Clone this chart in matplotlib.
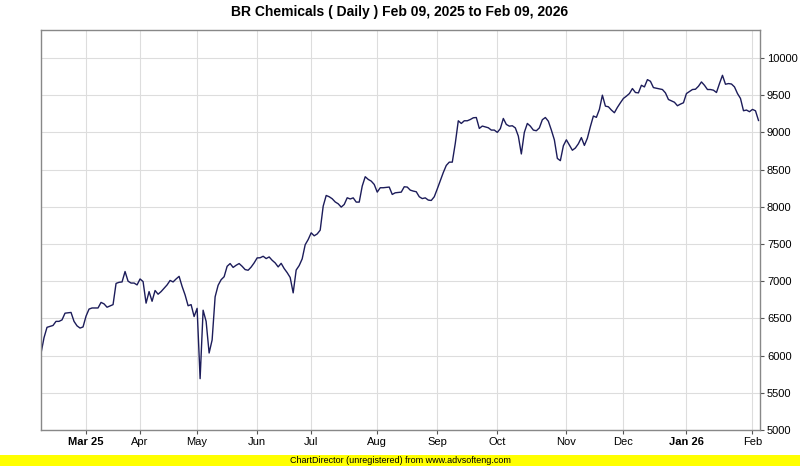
import matplotlib
matplotlib.use('Agg')
import matplotlib.pyplot as plt
from matplotlib.patches import Rectangle

plt.rcParams['font.family'] = ['Liberation Sans', 'DejaVu Sans']

# trading session number (0 = Feb 10, 2025) and close price
session = [0, 1, 2, 4, 5, 6, 7, 8, 10, 11, 12, 13, 14, 15, 16, 17, 19, 20, 21, 22,
           24, 25, 26, 27, 28, 29, 30, 31, 32, 33, 34, 35, 36, 37, 38, 39, 40, 41, 42, 43,
           44, 45, 46, 47, 48, 49, 50, 51, 52, 53, 54, 55, 56, 57, 58, 59, 60, 61, 62, 63,
           64, 65, 66, 67, 68, 69, 70, 71, 72, 73, 74, 75, 76, 77, 78, 79, 80, 81, 82, 83,
           84, 85, 86, 87, 88, 89, 90, 91, 92, 93, 94, 95, 96, 97, 98, 99, 100, 101, 102, 103,
           104, 105, 106, 107, 108, 109, 110, 111, 112, 113, 114, 116, 117, 118, 120, 121, 122, 123, 124, 125,
           126, 127, 128, 129, 130, 131, 132, 133, 134, 135, 136, 137, 138, 139, 140, 141, 142, 143, 144, 145,
           146, 147, 149, 150, 151, 152, 153, 154, 155, 156, 157, 158, 159, 160, 161, 162, 163, 164, 165, 166,
           167, 168, 169, 170, 171, 172, 173, 174, 175, 176, 177, 178, 179, 180, 181, 182, 183, 184, 185, 186,
           187, 188, 189, 190, 191, 192, 193, 194, 195, 196, 197, 198, 199, 200, 201, 202, 203, 204, 206, 207,
           208, 209, 211, 212, 213, 214, 215, 217, 218, 219, 220, 221, 222, 223, 224, 225, 226, 227, 228, 229,
           230, 231, 232, 233, 234, 235, 236, 237, 238, 239]
close = [6030, 6240, 6380, 6405, 6460, 6460, 6480, 6570, 6580, 6460, 6400, 6370, 6385, 6530, 6625, 6640, 6640, 6715, 6695, 6650,
         6685, 6970, 6985, 6990, 7130, 7000, 6975, 6975, 6950, 7030, 6995, 6705, 6860, 6730, 6875, 6825, 6860, 6905, 6950, 7010,
         6990, 7030, 7065, 6930, 6815, 6670, 6685, 6525, 6635, 5690, 6610, 6460, 6035, 6210, 6790, 6945, 7020, 7060, 7200, 7237,
         7185, 7214, 7237, 7200, 7156, 7147, 7190, 7246, 7313, 7315, 7335, 7304, 7326, 7281, 7246, 7192, 7240, 7170, 7115, 7050,
         6843, 7150, 7210, 7300, 7490, 7560, 7650, 7610, 7635, 7686, 8009, 8152, 8135, 8108, 8065, 8040, 7996, 8031, 8121, 8105,
         8120, 8063, 8063, 8278, 8404, 8368, 8345, 8300, 8197, 8256, 8256, 8265, 8166, 8188, 8197, 8269, 8265, 8224, 8211, 8202,
         8135, 8110, 8120, 8090, 8085, 8135, 8240, 8350, 8460, 8556, 8600, 8600, 8853, 9156, 9120, 9156, 9156, 9173, 9196, 9200,
         9053, 9085, 9062, 9031, 9031, 9000, 9050, 9187, 9107, 9084, 9089, 9060, 8950, 8710, 9000, 9120, 9084, 9031, 9022, 9060,
         9170, 9200, 9150, 9031, 8900, 8650, 8620, 8820, 8900, 8830, 8760, 8790, 8847, 8930, 8825, 8922, 9078, 9220, 9202, 9309,
         9500, 9353, 9344, 9300, 9264, 9336, 9398, 9456, 9487, 9522, 9589, 9536, 9531, 9633, 9611, 9709, 9687, 9602, 9584, 9576,
         9531, 9442, 9405, 9358, 9380, 9398, 9522, 9576, 9580, 9620, 9678, 9633, 9576, 9576, 9567, 9536, 9656, 9767, 9647, 9656,
         9650, 9611, 9522, 9456, 9291, 9300, 9278, 9309, 9290, 9160]

# first session of each month
month_pos = [15, 33, 52, 72, 90, 112, 132, 152, 175, 194, 215, 237]
month_lbl = ['Mar 25', 'Apr', 'May', 'Jun', 'Jul', 'Aug', 'Sep', 'Oct', 'Nov', 'Dec', 'Jan 26', 'Feb']
y_ticks = [5000, 5500, 6000, 6500, 7000, 7500, 8000, 8500, 9000, 9500, 10000]

fig = plt.figure(figsize=(8, 4.66), dpi=100)
ax = fig.add_axes([41 / 800, 36 / 466, 719 / 800, 400 / 466])

ax.plot(session, close, color='#1c1c5a', linewidth=1.0)

ax.set_xlim(0, 239.5)
ax.set_ylim(5000, 10376)

ax.set_xticks(month_pos)
ax.set_xticklabels(month_lbl, fontsize=8)
for lbl in ax.get_xticklabels():
    if lbl.get_text() in ('Mar 25', 'Jan 26'):
        lbl.set_fontweight('bold')
ax.set_yticks(y_ticks)
ax.set_yticklabels([str(v) for v in y_ticks], fontsize=8)
ax.yaxis.tick_right()
ax.tick_params(axis='both', length=3, width=0.8, color='#555555', pad=2)

ax.grid(True, color='#dddddd', linewidth=0.8)
ax.set_axisbelow(True)
for sp in ax.spines.values():
    sp.set_color('#888888')
    sp.set_linewidth(1.0)

fig.text(0.5, 1 - 12 / 466, 'BR Chemicals ( Daily ) Feb 09, 2025 to Feb 09, 2026',
         ha='center', va='center', fontsize=10, fontweight='bold')

# unregistered banner
fig.patches.append(Rectangle((0, 0), 1, 11 / 466, transform=fig.transFigure,
                             facecolor='#ffff00', edgecolor='none'))
fig.text(0.5, 5.5 / 466, 'ChartDirector (unregistered) from www.advsofteng.com',
         ha='center', va='center', fontsize=6.5)

plt.savefig('out.png', dpi=100)
